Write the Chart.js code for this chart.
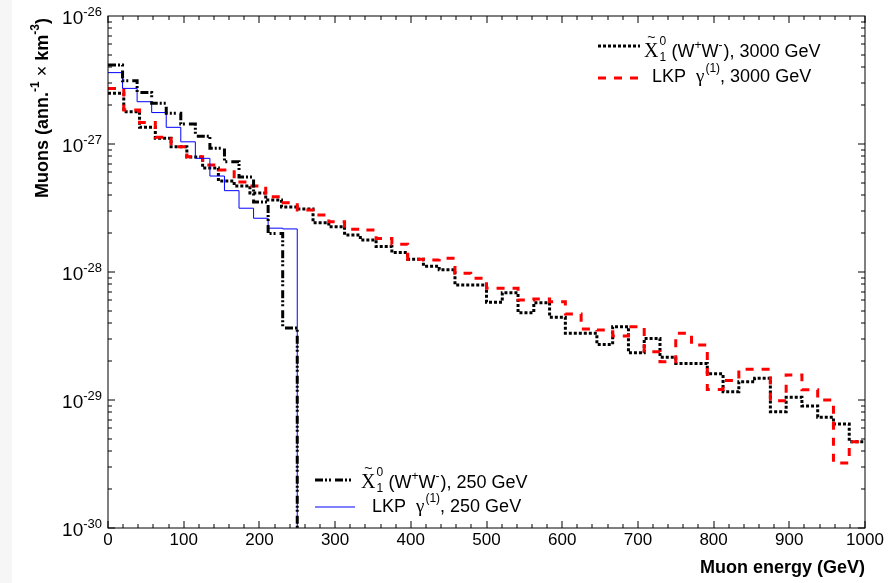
<!DOCTYPE html>
<html>
<head>
<meta charset="utf-8">
<script src="https://cdn.jsdelivr.net/npm/chart.js@4/dist/chart.umd.min.js"></script>
<style>html,body{margin:0;padding:0;background:#fff;}canvas{display:block;}</style>
</head>
<body>
<canvas id="c" width="896" height="583"></canvas>
<script>
// ---- bin structure (categories) ----
const BINS_3000 = 48;            // 48 bins over 0..1000 GeV
const BINS_250 = 13;             // 13 bins over 0..250 GeV
const EDGES_3000 = Array.from({length: BINS_3000 + 1}, (_, i) => i * 1000 / BINS_3000);
const EDGES_250 = Array.from({length: BINS_250 + 1}, (_, i) => i * 250 / BINS_250);

// ---- series values (muons per annihilation per km^3) ----
const NEUT_3000 = [2.49e-27, 1.79e-27, 1.35e-27, 1.11e-27, 9.53e-28, 7.91e-28, 6.49e-28, 5.14e-28, 4.70e-28, 4.14e-28,
  3.65e-28, 3.22e-28, 3.11e-28, 2.43e-28, 2.26e-28, 1.95e-28, 1.78e-28, 1.58e-28, 1.42e-28, 1.26e-28,
  1.11e-28, 1.04e-28, 7.91e-29, 7.91e-29, 5.80e-29, 6.89e-29, 4.81e-29, 5.76e-29, 4.43e-29, 3.32e-29,
  3.32e-29, 2.72e-29, 3.74e-29, 2.34e-29, 3.03e-29, 2.16e-29, 1.93e-29, 1.93e-29, 1.60e-29, 1.16e-29,
  1.39e-29, 1.48e-29, 8.10e-30, 1.05e-29, 8.98e-30, 7.33e-30, 6.49e-30, 4.72e-30];
const LKP_3000 = [2.72e-27, 1.84e-27, 1.47e-27, 1.13e-27, 9.53e-28, 7.96e-28, 6.85e-28, 6.26e-28, 5.05e-28, 4.70e-28,
  3.88e-28, 3.48e-28, 3.05e-28, 2.79e-28, 2.47e-28, 2.16e-28, 2.13e-28, 1.83e-28, 1.65e-28, 1.26e-28,
  1.24e-28, 1.28e-28, 9.77e-29, 8.93e-29, 7.46e-29, 7.46e-29, 6.04e-29, 6.15e-29, 5.86e-29, 4.70e-29,
  3.59e-29, 3.52e-29, 3.16e-29, 3.74e-29, 2.38e-29, 1.99e-29, 3.32e-29, 2.69e-29, 1.21e-29, 1.42e-29,
  1.74e-29, 1.74e-29, 9.87e-30, 1.57e-29, 1.20e-29, 1.00e-29, 3.22e-30, 4.72e-30];
const NEUT_250 = [4.14e-27, 3.12e-27, 2.52e-27, 2.08e-27, 1.74e-27, 1.43e-27, 1.15e-27, 9.26e-28, 7.27e-28, 5.52e-28,
  3.52e-28, 2.00e-28, 3.65e-29];
const LKP_250 = [3.61e-27, 2.72e-27, 2.14e-27, 1.76e-27, 1.35e-27, 1.04e-27, 7.73e-28, 5.62e-28, 4.32e-28, 3.15e-28,
  2.63e-28, 2.20e-28, 2.17e-28];
const FLOOR = 1e-32; // below the axis: histogram drops to zero

// ---- tick labels ----
const X_TICKS = [0, 100, 200, 300, 400, 500, 600, 700, 800, 900, 1000];
const Y_EXPONENTS = ['-26', '-27', '-28', '-29', '-30'];

function histPoints(edges, vals, dropToZero) {
  const pts = vals.map((v, i) => ({x: edges[i], y: v}));
  pts.push({x: edges[vals.length], y: vals[vals.length - 1]});
  if (dropToZero) pts.push({x: edges[vals.length], y: FLOOR});
  return pts;
}

const SANS = '"Liberation Sans", Arial, sans-serif';
const SERIF = '"Liberation Serif", "Times New Roman", serif';

function rich(ctx, x, base, segs) {
  for (const s of segs) {
    ctx.font = s.f;
    ctx.fillText(s.t, x, base + (s.dy || 0));
    x += ctx.measureText(s.t).width + (s.g || 0);
  }
  return x;
}

function chiLabel(ctx, x, base, tail) {
  ctx.fillStyle = '#000';
  ctx.font = '20px ' + SERIF;
  ctx.fillText('Χ', x, base);
  const w = ctx.measureText('Χ').width;
  ctx.font = '14px ' + SANS;
  ctx.textAlign = 'center';
  ctx.fillText('~', x + w / 2, base - 15);
  ctx.textAlign = 'left';
  ctx.font = '12px ' + SANS;
  ctx.fillText('0', x + w + 1, base - 12);
  ctx.fillText('1', x + w + 1, base + 4);
  rich(ctx, x + w + 13, base, [
    {t: '(W', f: '18px ' + SANS},
    {t: '+', f: '12px ' + SANS, dy: -8},
    {t: 'W', f: '18px ' + SANS},
    {t: '-', f: '12px ' + SANS, dy: -8, g: 1},
    {t: '), ' + tail, f: '18px ' + SANS}
  ]);
}

function lkpLabel(ctx, x, base, tail) {
  ctx.fillStyle = '#000';
  rich(ctx, x, base, [
    {t: 'LKP  ', f: '18px ' + SANS},
    {t: 'γ', f: '19px ' + SERIF, g: 1},
    {t: '(1)', f: '12px ' + SANS, dy: -10},
    {t: ', ' + tail, f: '18px ' + SANS}
  ]);
}

function sample(ctx, x0, x1, yy, color, width, dash) {
  ctx.save();
  ctx.strokeStyle = color; ctx.lineWidth = width; ctx.setLineDash(dash); ctx.lineCap = 'butt';
  ctx.beginPath(); ctx.moveTo(x0, yy); ctx.lineTo(x1, yy); ctx.stroke();
  ctx.restore();
}

const DASH_DOTDOT = [8, 2, 2, 2, 2, 4];
const DASH_RED = [8, 8];
const DASH_DOT = [3, 2];

const deco = {
  id: 'deco',
  beforeDraw(chart) {
    const {ctx, width, height} = chart;
    ctx.save();
    ctx.fillStyle = '#ffffff'; ctx.fillRect(0, 0, width, height);
    ctx.fillStyle = '#f6f6f6'; ctx.fillRect(0, 0, 12, height);
    ctx.restore();
  },
  afterDraw(chart) {
    const {ctx, chartArea: a, scales} = chart;
    const xs = scales.x, ys = scales.y;
    ctx.save();
    ctx.strokeStyle = '#000'; ctx.lineWidth = 1; ctx.setLineDash([]);
    ctx.strokeRect(a.left, a.top, a.right - a.left, a.bottom - a.top);
    ctx.beginPath();
    for (let g = 0; g <= 1000; g += 20) {
      const px = Math.round(xs.getPixelForValue(g));
      const len = g % 100 === 0 ? 7 : 4;
      ctx.moveTo(px, a.bottom); ctx.lineTo(px, a.bottom - len);
      ctx.moveTo(px, a.top); ctx.lineTo(px, a.top + len);
    }
    for (let e = -30; e < -26; e++) {
      for (let m = 1; m <= 9; m++) {
        const py = Math.round(ys.getPixelForValue(m * Math.pow(10, e)));
        const len = m === 1 ? 7 : 4;
        ctx.moveTo(a.left, py); ctx.lineTo(a.left + len, py);
        ctx.moveTo(a.right, py); ctx.lineTo(a.right - len, py);
      }
    }
    ctx.stroke();

    // x tick labels
    ctx.fillStyle = '#000';
    ctx.font = '17px ' + SANS; ctx.textAlign = 'center'; ctx.textBaseline = 'alphabetic';
    X_TICKS.forEach(v => ctx.fillText(String(v), xs.getPixelForValue(v), 545));

    // y tick labels 10^n
    Y_EXPONENTS.forEach(ex => {
      const py = ys.getPixelForValue(Math.pow(10, Number(ex)));
      ctx.textAlign = 'left';
      ctx.font = '13px ' + SANS;
      const we = ctx.measureText(ex).width;
      ctx.font = '19px ' + SANS;
      const wb = ctx.measureText('10').width;
      const right = a.left - 6;
      ctx.fillText('10', right - we - wb, py + 8);
      ctx.font = '13px ' + SANS;
      ctx.fillText(ex, right - we, py);
    });

    // axis titles
    ctx.textAlign = 'right';
    ctx.font = 'bold 18px ' + SANS;
    ctx.fillText('Muon energy (GeV)', a.right, 573);

    ctx.save();
    ctx.translate(48, 108);
    ctx.rotate(-Math.PI / 2);
    ctx.textAlign = 'left';
    const segs = [
      {t: 'Muons (ann.', f: 'bold 18px ' + SANS},
      {t: '-1', f: 'bold 12px ' + SANS, dy: -9},
      {t: ' × ', f: '18px ' + SANS},
      {t: 'km', f: 'bold 18px ' + SANS},
      {t: '-3', f: 'bold 12px ' + SANS, dy: -9},
      {t: ')', f: 'bold 18px ' + SANS}
    ];
    let total = 0;
    segs.forEach(s => { ctx.font = s.f; total += ctx.measureText(s.t).width; });
    rich(ctx, -total / 2, 0, segs);
    ctx.restore();

    // legends
    ctx.textAlign = 'left';
    sample(ctx, 598, 640, 46, '#000', 3, DASH_DOT);
    chiLabel(ctx, 644, 57, '3000 GeV');
    sample(ctx, 598, 640, 78, '#ff0000', 3, DASH_RED);
    lkpLabel(ctx, 652, 82, '3000 GeV');

    sample(ctx, 315, 355, 480, '#000', 3, DASH_DOTDOT);
    chiLabel(ctx, 361, 488, '250 GeV');
    sample(ctx, 315, 355, 507, '#0000ff', 1, []);
    lkpLabel(ctx, 372, 512, '250 GeV');
    ctx.restore();
  }
};

new Chart(document.getElementById('c'), {
  type: 'line',
  data: {
    datasets: [
      {label: 'neutralino (W+W-), 250 GeV', data: histPoints(EDGES_250, NEUT_250, true),
       borderColor: '#000000', borderWidth: 3, borderDash: DASH_DOTDOT, stepped: 'before',
       pointRadius: 0, fill: false, borderCapStyle: 'butt', borderJoinStyle: 'miter'},
      {label: 'LKP gamma(1), 250 GeV', data: histPoints(EDGES_250, LKP_250, true),
       borderColor: '#0000ff', borderWidth: 1, stepped: 'before',
       pointRadius: 0, fill: false, borderJoinStyle: 'miter'},
      {label: 'LKP gamma(1), 3000 GeV', data: histPoints(EDGES_3000, LKP_3000, false),
       borderColor: '#ff0000', borderWidth: 3, borderDash: DASH_RED, stepped: 'before',
       pointRadius: 0, fill: false, borderCapStyle: 'butt', borderJoinStyle: 'miter'},
      {label: 'neutralino (W+W-), 3000 GeV', data: histPoints(EDGES_3000, NEUT_3000, false),
       borderColor: '#000000', borderWidth: 3, borderDash: DASH_DOT, stepped: 'before',
       pointRadius: 0, fill: false, borderCapStyle: 'butt', borderJoinStyle: 'miter'}
    ]
  },
  options: {
    responsive: false,
    animation: false,
    devicePixelRatio: 1,
    layout: {padding: {left: 108, right: 31, top: 16, bottom: 55}},
    plugins: {legend: {display: false}, tooltip: {enabled: false}},
    scales: {
      x: {type: 'linear', min: 0, max: 1000, display: false},
      y: {type: 'logarithmic', min: 1e-30, max: 1e-26, display: false}
    }
  },
  plugins: [deco]
});
</script>
</body>
</html>
